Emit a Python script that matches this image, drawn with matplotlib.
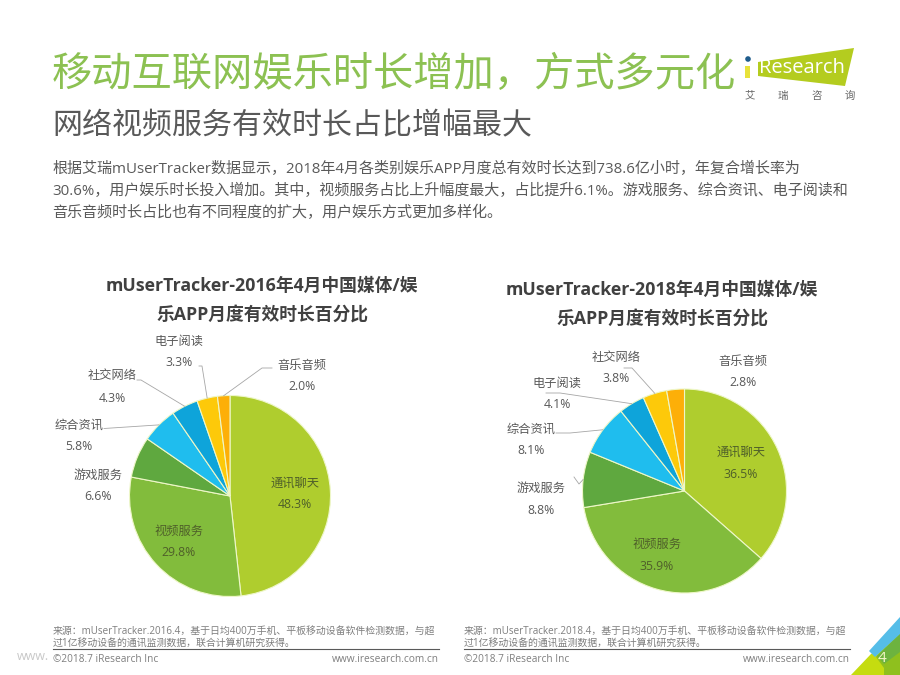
import matplotlib
matplotlib.use('Agg')
import matplotlib.pyplot as plt
import numpy as np
from matplotlib.patches import Polygon, Circle

plt.rcParams['font.family'] = ['Open Sans', 'Noto Sans CJK SC', 'DejaVu Sans']

W, H = 900, 675

# data
categories_2016 = ['通讯聊天', '视频服务', '游戏服务', '综合资讯', '社交网络', '电子阅读', '音乐音频']
values_2016 = [48.3, 29.8, 6.6, 5.8, 4.3, 3.3, 2.0]
categories_2018 = ['通讯聊天', '视频服务', '游戏服务', '综合资讯', '电子阅读', '社交网络', '音乐音频']
values_2018 = [36.5, 35.9, 8.8, 8.1, 4.1, 3.8, 2.8]
pie_colors = ['#afcd2e', '#82bc3c', '#5fa83f', '#1fbdee', '#0ea4da', '#fdc90a', '#fdaf08']

title = '移动互联网娱乐时长增加，方式多元化'
subtitle = '网络视频服务有效时长占比增幅最大'
body_lines = ['根据艾瑞mUserTracker数据显示，2018年4月各类别娱乐APP月度总有效时长达到738.6亿小时，年复合增长率为',
              '30.6%，用户娱乐时长投入增加。其中，视频服务占比上升幅度最大，占比提升6.1%。游戏服务、综合资讯、电子阅读和',
              '音乐音频时长占比也有不同程度的扩大，用户娱乐方式更加多样化。']
chart_title_2016 = ['mUserTracker-2016年4月中国媒体/娱', '乐APP月度有效时长百分比']
chart_title_2018 = ['mUserTracker-2018年4月中国媒体/娱', '乐APP月度有效时长百分比']
source_2016 = ['来源：mUserTracker.2016.4，基于日均400万手机、平板移动设备软件检测数据，与超',
               '过1亿移动设备的通讯监测数据，联合计算机研究获得。']
source_2018 = ['来源：mUserTracker.2018.4，基于日均400万手机、平板移动设备软件检测数据，与超',
               '过1亿移动设备的通讯监测数据，联合计算机研究获得。']
copyright_text = '©2018.7 iResearch Inc'
site_text = 'www.iresearch.com.cn'

fig = plt.figure(figsize=(9, 6.75), dpi=100, facecolor='white')

# overlay in pixel coords, y going down like the picture
bg = fig.add_axes([0, 0, 1, 1])
bg.set_xlim(0, W)
bg.set_ylim(H, 0)
bg.axis('off')
bg.set_zorder(2)


def draw_pie(cx, cy, r, values):
    ax = fig.add_axes([(cx-r)/W, 1-(cy+r)/H, 2*r/W, 2*r/H])
    ax.pie(values, colors=pie_colors, startangle=90, counterclock=False, radius=1,
           wedgeprops={'edgecolor': '#eef7c8', 'linewidth': 0.8})
    ax.set_xlim(-1, 1)
    ax.set_ylim(-1, 1)
    ax.set_zorder(1)


def edge_point(cx, cy, r, values, i):
    # point on the rim, in the middle of wedge i
    frac = (sum(values[:i]) + values[i]/2) / sum(values)
    a = 2*np.pi*frac
    return cx + r*np.sin(a), cy - r*np.cos(a)


def draw_labels(cx, cy, r, cats, values, places):
    for i, (x, y, elbow) in enumerate(places):
        inside = i < 2
        col = '#4f5f2a' if inside else '#595959'
        bg.text(x, y, cats[i], fontsize=8.8, color=col, ha='center', va='center', zorder=5)
        bg.text(x, y+22, '%.1f%%' % values[i], fontsize=8.8, color=col, ha='center', va='center', zorder=5)
        if elbow is not None:
            ex, ey = edge_point(cx, cy, r, values, i)
            bg.plot([elbow[0], elbow[2], ex], [elbow[1], elbow[3], ey], color='#a6a6a6', lw=0.6, zorder=0.5)


# title block
bg.text(52, 76, title, fontsize=29, color='#8cc152', ha='left', va='center')
bg.text(52, 127, subtitle, fontsize=21.6, color='#595959', ha='left', va='center')
for y, line in zip([169.5, 191.5, 213.5], body_lines):
    bg.text(52, y, line, fontsize=10.85, color='#595959', ha='left', va='center')

# logo
bg.add_patch(Polygon([[758, 62], [854, 48], [845, 86], [758, 76]], closed=True, fc='#b4cc1f', ec='none'))
bg.add_patch(Polygon([[745, 66], [750, 66], [750, 78], [745, 78]], closed=True, fc='#e8e23a', ec='none'))
bg.add_patch(Circle((748, 59), 2.8, fc='#1f5c8c', ec='none'))
bg.text(759, 68, 'Research', fontsize=14.5, color='white', ha='left', va='center')
for x, ch in zip([750, 783, 817, 850], '艾瑞咨询'):
    bg.text(x, 96, ch, fontsize=7.5, color='#666666', ha='center', va='center')

# chart titles
for y, line in zip([286, 316], chart_title_2016):
    bg.text(262, y, line, fontsize=12.8, fontweight='bold', color='#404040', ha='center', va='center')
for y, line in zip([290, 320], chart_title_2018):
    bg.text(662, y, line, fontsize=12.8, fontweight='bold', color='#404040', ha='center', va='center')

# pies
draw_pie(230, 496, 100.5, values_2016)
draw_pie(684.5, 491, 102, values_2018)

places_2016 = [(295, 483, None), (179, 531, None),
               (98, 475, None),
               (79, 425, (104, 428.5, 104, 428.5)),
               (112, 376, (137, 380, 141, 380)),
               (179, 341, (199, 366, 202, 366)),
               (302, 365, (272, 368, 262, 368))]
places_2018 = [(741, 452, None), (657, 544, None),
               (541, 488, (574, 477, 579, 484)),
               (531, 429, (556, 433, 570, 433)),
               (557, 383, (546, 393, 560, 393)),
               (616, 357, (624, 368, 632, 368)),
               (743, 361, None)]
draw_labels(230, 496, 100.5, categories_2016, values_2016, places_2016)
draw_labels(684.5, 491, 102, categories_2018, values_2018, places_2018)

# footers
for x0, x1, src in [(53, 439, source_2016), (464, 850, source_2018)]:
    for y, line in zip([631, 643], src):
        bg.text(x0, y, line, fontsize=7.15, color='#7f7f7f', ha='left', va='center')
    bg.plot([x0, x1], [648.5, 648.5], color='#595959', lw=0.8)
    bg.text(x0, 659.5, copyright_text, fontsize=7.3, color='#7f7f7f', ha='left', va='center')
    bg.text(x1, 659.5, site_text, fontsize=7.3, color='#7f7f7f', ha='right', va='center')

# watermark
bg.text(17, 657, 'www.', fontsize=9, color='#c8c8c8', ha='left', va='center', zorder=0)

# corner decoration
bg.add_patch(Polygon([[871, 654], [900, 640], [900, 675], [851, 675]], closed=True, fc='#c5dc10', ec='none'))
bg.add_patch(Polygon([[876, 657], [900, 632], [900, 675], [884, 675], [884, 668]], closed=True, fc='#8fc01e', ec='none'))
bg.add_patch(Polygon([[877, 656], [900, 634], [900, 652], [884, 664]], closed=True, fc='#6db33f', ec='none'))
bg.add_patch(Polygon([[900, 617], [900, 634], [875, 657], [869, 651]], closed=True, fc='#55bde8', ec='none'))
bg.text(882, 659, '4', fontsize=11, color='#f3f7c8', ha='center', va='center', zorder=5)

fig.savefig('out.png', dpi=100)
